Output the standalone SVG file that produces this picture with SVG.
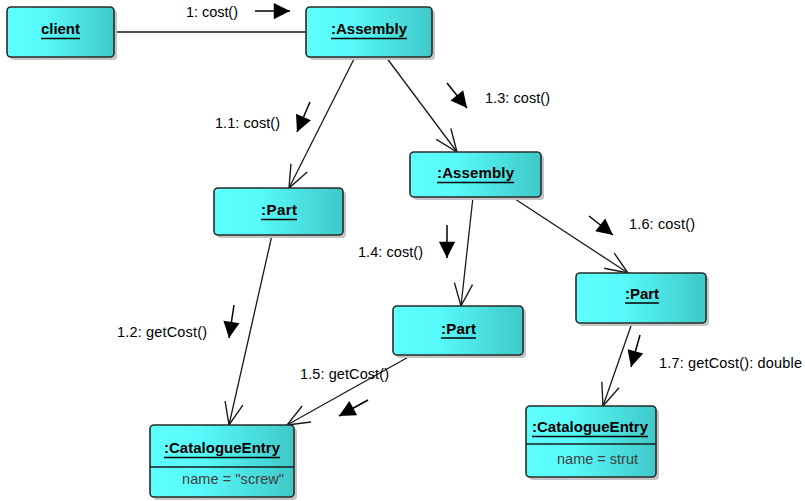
<svg xmlns="http://www.w3.org/2000/svg" width="805" height="501" viewBox="0 0 805 501">
<defs>
<linearGradient id="g" x1="0" y1="0" x2="1" y2="0">
<stop offset="0" stop-color="#5effff"/>
<stop offset="0.35" stop-color="#57fafa"/>
<stop offset="1" stop-color="#40c8c8"/>
</linearGradient>
<marker id="open" markerUnits="userSpaceOnUse" markerWidth="30" markerHeight="30" viewBox="-24 -12 28 24" refX="0" refY="0" orient="auto">
<path d="M-21,-8.5 L0,0 L-21,8.5" fill="none" stroke="#1a1a1a" stroke-width="1.3"/>
</marker>
<marker id="msg" markerUnits="userSpaceOnUse" markerWidth="20" markerHeight="20" viewBox="-14 -8 16 16" refX="0" refY="0" orient="auto">
<path d="M0,0 L-13,-6.5 L-13,6.5 Z" fill="#000"/>
</marker>
</defs>
<style>
.box{fill:url(#g);stroke:#2a2a2a;stroke-width:1.6}
.sh{fill:#c4c4c4}
.t{font-family:"Liberation Sans",Arial,sans-serif;font-weight:bold;font-size:15px;fill:#000;text-anchor:middle}
.u{stroke:#000;stroke-width:1.5}
.a{font-family:"Liberation Sans",Arial,sans-serif;font-size:14.5px;fill:#404040}
.l{font-family:"Liberation Sans",Arial,sans-serif;font-size:14.5px;fill:#000}
.c{stroke:#1a1a1a;stroke-width:1.3;fill:none}
.m{stroke:#000;stroke-width:1.5;fill:none}
</style>

<g id="connectors">
<line class="c" x1="114" y1="32" x2="306" y2="32"/>
<line class="c" x1="355" y1="57" x2="289" y2="188" marker-end="url(#open)"/>
<line class="c" x1="386" y1="57" x2="457" y2="152" marker-end="url(#open)"/>
<line class="c" x1="272" y1="235" x2="229" y2="425" marker-end="url(#open)"/>
<line class="c" x1="473" y1="197" x2="461" y2="306" marker-end="url(#open)"/>
<line class="c" x1="512" y1="197" x2="628" y2="273" marker-end="url(#open)"/>
<line class="c" x1="412" y1="355" x2="287" y2="425" marker-end="url(#open)"/>
<line class="c" x1="632" y1="323" x2="603" y2="406" marker-end="url(#open)"/>
</g>

<g id="messages">
<line class="m" x1="255" y1="11" x2="290" y2="11" marker-end="url(#msg)"/>
<text class="l" x="186" y="17" textLength="52">1: cost()</text>
<line class="m" x1="310" y1="102" x2="297" y2="132" marker-end="url(#msg)"/>
<text class="l" x="215" y="128" textLength="65">1.1: cost()</text>
<line class="m" x1="447" y1="83" x2="467" y2="108" marker-end="url(#msg)"/>
<text class="l" x="485" y="103" textLength="65">1.3: cost()</text>
<line class="m" x1="234" y1="305" x2="229" y2="338" marker-end="url(#msg)"/>
<text class="l" x="117" y="337" textLength="90">1.2: getCost()</text>
<line class="m" x1="447" y1="225" x2="447" y2="258" marker-end="url(#msg)"/>
<text class="l" x="358" y="257" textLength="65">1.4: cost()</text>
<line class="m" x1="589" y1="216" x2="613" y2="235" marker-end="url(#msg)"/>
<text class="l" x="629" y="229" textLength="66">1.6: cost()</text>
<line class="m" x1="368" y1="400" x2="339" y2="416" marker-end="url(#msg)"/>
<text class="l" x="300" y="379" textLength="89">1.5: getCost()</text>
<line class="m" x1="640" y1="335" x2="631" y2="367" marker-end="url(#msg)"/>
<text class="l" x="659" y="368" textLength="143">1.7: getCost(): double</text>
</g>

<g id="client">
<rect class="sh" x="10" y="10" width="107" height="50" rx="4"/>
<rect class="box" x="7" y="7" width="107" height="50" rx="4"/>
<text class="t" x="60.5" y="34" textLength="39">client</text>
<line class="u" x1="41" y1="38.5" x2="80" y2="38.5"/>
</g>

<g id="assembly1">
<rect class="sh" x="309" y="10" width="126" height="50" rx="4"/>
<rect class="box" x="306" y="7" width="126" height="50" rx="4"/>
<text class="t" x="369" y="34" textLength="76">:Assembly</text>
<line class="u" x1="331" y1="38.5" x2="407" y2="38.5"/>
</g>

<g id="part1">
<rect class="sh" x="217" y="191" width="129" height="47" rx="4"/>
<rect class="box" x="214" y="188" width="129" height="47" rx="4"/>
<text class="t" x="279" y="215" textLength="36">:Part</text>
<line class="u" x1="261" y1="219.5" x2="297" y2="219.5"/>
</g>

<g id="assembly2">
<rect class="sh" x="413" y="155" width="131" height="45" rx="4"/>
<rect class="box" x="410" y="152" width="131" height="45" rx="4"/>
<text class="t" x="475.5" y="178" textLength="77">:Assembly</text>
<line class="u" x1="437" y1="182.5" x2="514" y2="182.5"/>
</g>

<g id="part2">
<rect class="sh" x="396" y="309" width="130" height="49" rx="4"/>
<rect class="box" x="393" y="306" width="130" height="49" rx="4"/>
<text class="t" x="458.5" y="334" textLength="35">:Part</text>
<line class="u" x1="441" y1="338" x2="476" y2="338"/>
</g>

<g id="part3">
<rect class="sh" x="579" y="276" width="130" height="50" rx="4"/>
<rect class="box" x="576" y="273" width="130" height="50" rx="4"/>
<text class="t" x="642" y="299" textLength="34">:Part</text>
<line class="u" x1="625" y1="303" x2="659" y2="303"/>
</g>

<g id="catalogue1">
<rect class="sh" x="153" y="428" width="144" height="72" rx="4"/>
<rect class="box" x="150" y="425" width="144" height="72" rx="4"/>
<line class="c" x1="150" y1="467" x2="294" y2="467" stroke-width="1.5"/>
<text class="t" x="222" y="453" textLength="116">:CatalogueEntry</text>
<line class="u" x1="164" y1="457.5" x2="280" y2="457.5"/>
<text class="a" x="182" y="484" textLength="102">name = "screw"</text>
</g>

<g id="catalogue2">
<rect class="sh" x="529" y="409" width="130" height="71" rx="4"/>
<rect class="box" x="526" y="406" width="130" height="71" rx="4"/>
<line class="c" x1="526" y1="444" x2="656" y2="444" stroke-width="1.5"/>
<text class="t" x="590" y="432" textLength="116">:CatalogueEntry</text>
<line class="u" x1="532" y1="436.5" x2="648" y2="436.5"/>
<text class="a" x="557" y="464" textLength="81">name = strut</text>
</g>
</svg>
